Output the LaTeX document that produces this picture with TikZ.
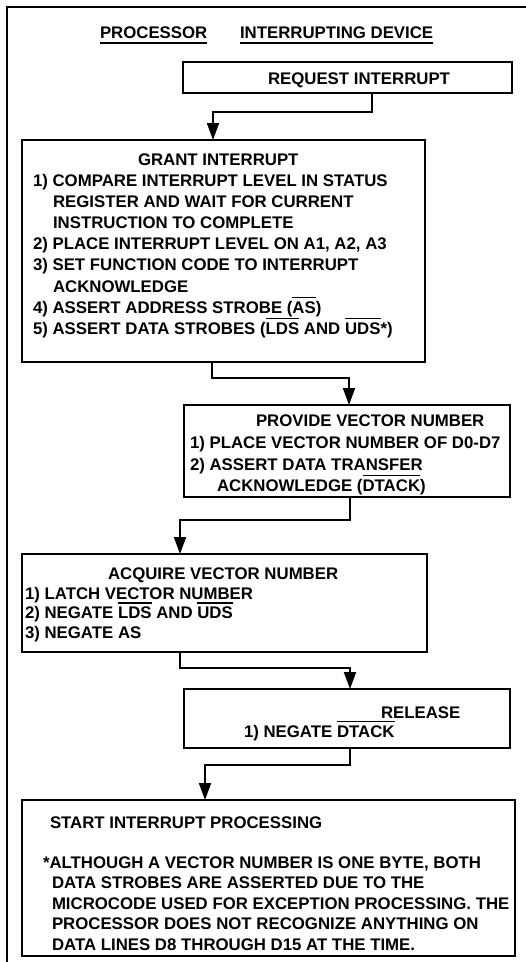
\documentclass[tikz,border=0pt]{standalone}
\usepackage{fontspec}
\setmainfont{Liberation Sans}
\usetikzlibrary{arrows.meta}
\newcommand{\ovl}[1]{\setbox0\hbox{#1}\rlap{\rule[15pt]{\wd0}{1.1pt}}#1}
\tikzset{
  box/.style={draw, line width=1.1pt, inner sep=0pt, outer sep=0pt},
  txt/.style={anchor=base west, inner sep=0pt, outer sep=0pt,
    font=\fontsize{16.8}{20}\selectfont\bfseries},
  conn/.style={line width=1.8pt, line join=miter},
  arr/.style={conn, -{Triangle[length=17pt,width=12pt]}},
  frame/.style={line width=1.4pt},
  uline/.style={line width=1.1pt}
}
\begin{document}
\begin{tikzpicture}[x=1pt,y=-1pt]
\useasboundingbox[fill=white] (0,0) rectangle (526,962);
% frame
\draw[frame] (7,962) -- (7,7) -- (526,7);
% header
\node[txt] (h1) at (100,38) {PROCESSOR};
\node[txt] (h2) at (240,38) {INTERRUPTING DEVICE};
\draw[uline] ([yshift=-5pt]h1.base west) -- ([yshift=-5pt]h1.base east);
\draw[uline] ([yshift=-5pt]h2.base west) -- ([yshift=-5pt]h2.base east);
% boxes
\node[box, minimum width=329pt, minimum height=31pt] (req) at (347.5,77.5) {};
\node[box, minimum width=403pt, minimum height=222pt] (grant) at (223.5,251) {};
\node[box, minimum width=326pt, minimum height=92pt] (prov) at (347,451) {};
\node[box, minimum width=405pt, minimum height=98pt] (acq) at (224.5,603) {};
\node[box, minimum width=326pt, minimum height=59pt] (rel) at (347,718.5) {};
\node[box, minimum width=493pt, minimum height=156pt] (start) at (268.5,878) {};
% request text
\node[txt] (t0) at (268,84) {REQUEST INTERRUPT};
% grant text
\node[txt] (g0) at (138,165) {GRANT INTERRUPT};
\node[txt] (g1) at (33,186) {1) COMPARE INTERRUPT LEVEL IN STATUS};
\node[txt] (g2) at (53,207.2) {REGISTER AND WAIT FOR CURRENT};
\node[txt] (g3) at (53,228.4) {INSTRUCTION TO COMPLETE};
\node[txt] (g4) at (33,249.6) {2) PLACE INTERRUPT LEVEL ON A1, A2, A3};
\node[txt] (g5) at (33,270.8) {3) SET FUNCTION CODE TO INTERRUPT};
\node[txt] (g6) at (53,292) {ACKNOWLEDGE};
\node[txt] (g7) at (33,313.2) {4) ASSERT ADDRESS STROBE (\ovl{AS})};
\node[txt] (g8) at (33,334.4) {5) ASSERT DATA STROBES (\ovl{LDS} AND \ovl{UDS}*)};
% provide text
\node[txt] (p0) at (256,426) {PROVIDE VECTOR NUMBER};
\node[txt] (p1) at (190,448) {1) PLACE VECTOR NUMBER OF D0-D7};
\node[txt] (p2) at (190,470) {2) ASSERT DATA TRANSFER};
\node[txt] (p3) at (217,491) {ACKNOWLEDGE (\ovl{DTACK})};
% acquire text
\node[txt] (a0) at (108,579) {ACQUIRE VECTOR NUMBER};
\node[txt] (a1) at (25,599) {1) LATCH VECTOR NUMBER};
\node[txt] (a2) at (25,618.5) {2) NEGATE \ovl{LDS} AND \ovl{UDS}};
\node[txt] (a3) at (25,638) {3) NEGATE AS};
% release text
\node[txt] (r0) at (381,718) {RELEASE};
\node[txt] (r1) at (244,737) {1) NEGATE \ovl{DTACK}};
% start text
\node[txt] (s0) at (50,828) {START INTERRUPT PROCESSING};
\node[txt] (s1) at (43,868) {*ALTHOUGH A VECTOR NUMBER IS ONE BYTE, BOTH};
\node[txt] (s2) at (52,888.5) {DATA STROBES ARE ASSERTED DUE TO THE};
\node[txt] (s3) at (52,909) {MICROCODE USED FOR EXCEPTION PROCESSING. THE};
\node[txt] (s4) at (52,929.5) {PROCESSOR DOES NOT RECOGNIZE ANYTHING ON};
\node[txt] (s5) at (52,950) {DATA LINES D8 THROUGH D15 AT THE TIME.};
% connector bends
\coordinate (c1a) at (372,112);
\coordinate (c1b) at (213,112);
\coordinate (c2a) at (212,378);
\coordinate (c2b) at (349,378);
\coordinate (c3a) at (350,520);
\coordinate (c3b) at (180,520);
\coordinate (c4a) at (180,668);
\coordinate (c4b) at (350,668);
\coordinate (c5a) at (350,765);
\coordinate (c5b) at (205,765);
% connectors
\draw[arr] (req.south -| c1a) -- (c1a) -- (c1b) -- (grant.north -| c1b);
\draw[arr] (grant.south -| c2a) -- (c2a) -- (c2b) -- (prov.north -| c2b);
\draw[arr] (prov.south -| c3a) -- (c3a) -- (c3b) -- (acq.north -| c3b);
\draw[arr] (acq.south -| c4a) -- (c4a) -- (c4b) -- (rel.north -| c4b);
\draw[arr] (rel.south -| c5a) -- (c5a) -- (c5b) -- (start.north -| c5b);
\end{tikzpicture}
\end{document}
